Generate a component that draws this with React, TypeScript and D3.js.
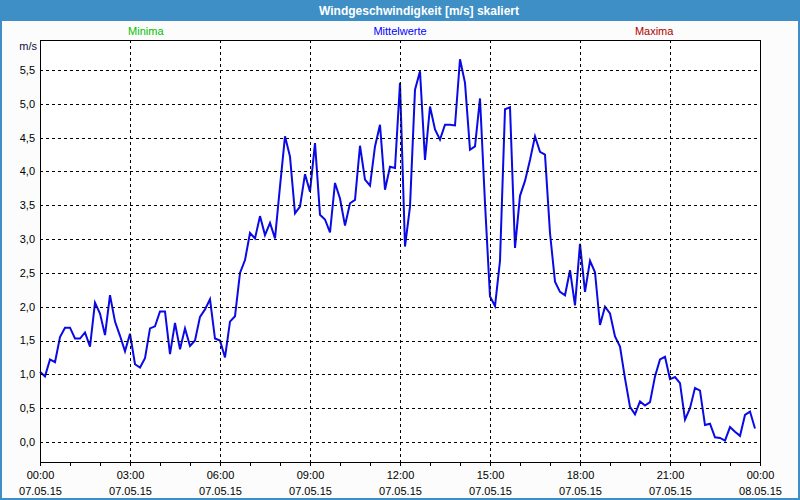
import React from 'react';
import * as d3 from 'd3';

// 10-minute means, 07.05.15 00:00 .. 23:50
const windValues: number[] = [
  1.04, 0.97, 1.22, 1.18, 1.55, 1.69, 1.69, 1.53, 1.53, 1.62, 1.41, 2.06,
  1.90, 1.58, 2.17, 1.78, 1.57, 1.34, 1.60, 1.15, 1.10, 1.24, 1.68, 1.71,
  1.93, 1.93, 1.30, 1.76, 1.37, 1.68, 1.42, 1.50, 1.85, 1.96, 2.11, 1.53,
  1.50, 1.25, 1.78, 1.86, 2.50, 2.69, 3.09, 3.01, 3.34, 3.06, 3.24, 3.01,
  3.78, 4.52, 4.22, 3.38, 3.48, 3.96, 3.70, 4.42, 3.36, 3.29, 3.10, 3.83,
  3.60, 3.20, 3.53, 3.58, 4.38, 3.88, 3.79, 4.37, 4.69, 3.73, 4.07, 4.05,
  5.31, 2.89, 3.48, 5.21, 5.48, 4.17, 4.96, 4.62, 4.47, 4.69, 4.69, 4.68,
  5.66, 5.31, 4.32, 4.37, 5.08, 3.53, 2.15, 2.01, 2.68, 4.92, 4.95, 2.87,
  3.64, 3.86, 4.17, 4.52, 4.29, 4.25, 3.09, 2.37, 2.22, 2.17, 2.54, 2.02,
  2.93, 2.22, 2.68, 2.51, 1.73, 2.00, 1.90, 1.56, 1.41, 0.94, 0.52, 0.41,
  0.60, 0.54, 0.59, 0.97, 1.22, 1.26, 0.93, 0.96, 0.87, 0.33, 0.50, 0.80,
  0.76, 0.25, 0.27, 0.07, 0.06, 0.02, 0.22, 0.15, 0.09, 0.40, 0.45, 0.20,
];

const stepMinutes = 10;
const xTickHours = [0, 3, 6, 9, 12, 15, 18, 21, 24];
const xTickTimes = ['00:00', '03:00', '06:00', '09:00', '12:00', '15:00', '18:00', '21:00', '00:00'];
const xTickDates = ['07.05.15', '07.05.15', '07.05.15', '07.05.15', '07.05.15', '07.05.15', '07.05.15', '07.05.15', '08.05.15'];
const yTicks = [0, 0.5, 1, 1.5, 2, 2.5, 3, 3.5, 4, 4.5, 5, 5.5];
const legendItems = [
  { label: 'Minima', color: '#00c000', at: 0.147 },
  { label: 'Mittelwerte', color: '#0000ff', at: 0.5 },
  { label: 'Maxima', color: '#b00000', at: 0.853 },
];

const W = 800;
const H = 500;
const plot = { left: 40, right: 760, top: 40, bottom: 462 };
const font = '"Liberation Sans", Arial, sans-serif';

export default function App() {
  const x = d3.scaleLinear().domain([0, 24]).range([plot.left, plot.right]);
  const y = d3.scaleLinear().domain([-0.296, 5.944]).range([plot.bottom, plot.top]);

  const line = d3
    .line<number>()
    .x((_, i) => x((i * stepMinutes) / 60))
    .y(d => y(d));

  const hourTicks = d3.range(0, 25);
  const vGrid = xTickHours.filter(h => h > 0 && h < 24);
  const fmt = (v: number) => v.toFixed(1).replace('.', ',');

  return (
    <svg
      width={W}
      height={H}
      style={{ position: 'fixed', left: 0, top: 0, fontFamily: font }}
    >
      <rect x={0} y={0} width={W} height={H} fill="#3d8fc6" />
      <rect x={2} y={21} width={W - 4} height={H - 23} fill="#fbfcfb" />
      <text
        x={419}
        y={15}
        textAnchor="middle"
        fill="#ffffff"
        fontWeight="bold"
        fontSize={12}
      >
        Windgeschwindigkeit [m/s] skaliert
      </text>

      {legendItems.map(l => (
        <text
          key={l.label}
          x={plot.left + l.at * (plot.right - plot.left)}
          y={35}
          textAnchor="middle"
          fill={l.color}
          fontSize={11}
        >
          {l.label}
        </text>
      ))}

      <rect
        x={plot.left}
        y={plot.top}
        width={plot.right - plot.left}
        height={plot.bottom - plot.top}
        fill="#ffffff"
      />

      <path d={line(windValues) ?? ''} fill="none" stroke="#0a0ae6" strokeWidth={2} />

      <g stroke="#000" strokeWidth={1} strokeDasharray="3,3" shapeRendering="crispEdges">
        {yTicks.map(t => (
          <line key={t} x1={plot.left} x2={plot.right} y1={Math.round(y(t)) + 0.5} y2={Math.round(y(t)) + 0.5} />
        ))}
        {vGrid.map(h => (
          <line key={h} x1={Math.round(x(h)) + 0.5} x2={Math.round(x(h)) + 0.5} y1={plot.top} y2={plot.bottom} />
        ))}
      </g>

      <rect
        x={plot.left + 0.5}
        y={plot.top + 0.5}
        width={plot.right - plot.left}
        height={plot.bottom - plot.top}
        fill="none"
        stroke="#000"
        strokeWidth={1}
        shapeRendering="crispEdges"
      />

      <g stroke="#000" shapeRendering="crispEdges">
        {hourTicks.map(h => (
          <line key={h} x1={Math.round(x(h)) + 0.5} x2={Math.round(x(h)) + 0.5} y1={plot.bottom} y2={plot.bottom + 4} />
        ))}
      </g>

      {yTicks.map(t => (
        <text key={t} x={35} y={y(t)} dy="0.35em" textAnchor="end" fontSize={11} fill="#000">
          {fmt(t)}
        </text>
      ))}
      <text x={37} y={50} textAnchor="end" fontSize={11} fill="#101040">
        m/s
      </text>

      {xTickHours.map((h, i) => (
        <g key={i} fontSize={11} fill="#000" textAnchor="middle">
          <text x={x(h) + 0.5} y={479}>{xTickTimes[i]}</text>
          <text x={x(h) + 0.5} y={495}>{xTickDates[i]}</text>
        </g>
      ))}
    </svg>
  );
}
